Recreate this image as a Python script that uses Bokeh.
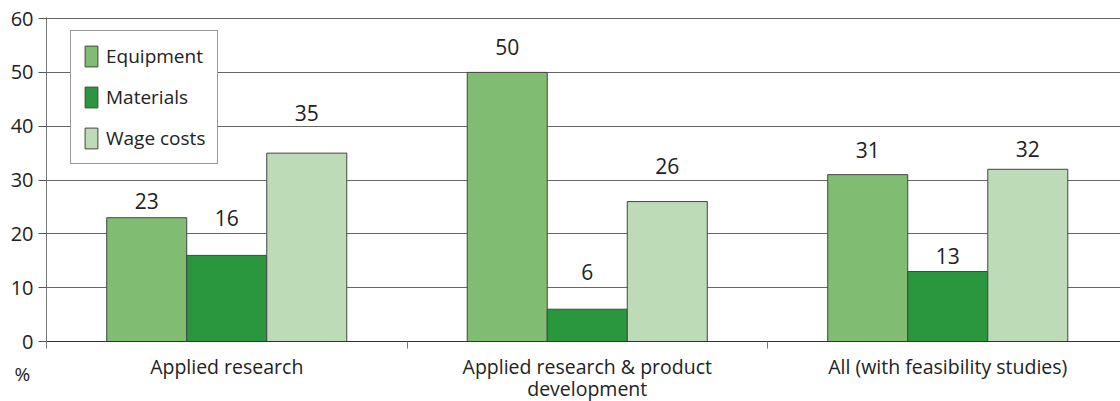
from bokeh.plotting import figure
from bokeh.models import (ColumnDataSource, Range1d, FixedTicker, Legend, LegendItem)
from bokeh.core.properties import value
from bokeh.embed import file_html
from bokeh.resources import INLINE

categories = ["Applied research", "Applied research & product\ndevelopment", "All (with feasibility studies)"]
series_names = ["Equipment", "Materials", "Wage costs"]
equipment = [23, 50, 31]
materials = [16, 6, 13]
wage_costs = [35, 26, 32]
y_ticks = [0, 10, 20, 30, 40, 50, 60]
y_unit = "%"

# label gaps above bar tops (pixels), as in the reference layout
label_gaps = [[8, 16, 16], [28, 28, 7], [31, 27, 11]]

colors = ["#80bd73", "#2a963e", "#bddbb7"]
FONT = "Open Sans"
TXT = "#222222"

W, H = 1120, 401
FRAME_W, FRAME_H = 1074, 324
CAT_PX = 360.5
Y_END = 60.2
PPU = FRAME_H / Y_END      # pixels per y unit
BASE_FIX = 9               # alphabetic baseline correction (px)

p = figure(width=W, height=H, output_backend="svg", toolbar_location=None,
           x_range=Range1d(0, FRAME_W / CAT_PX), y_range=Range1d(0, Y_END),
           min_border_left=46, min_border_right=0, min_border_top=17, min_border_bottom=60)
p.outline_line_color = None
p.background_fill_color = "white"
p.border_fill_color = "white"

centers = [i + 0.5 for i in range(len(categories))]
bw = 0.222
offsets = [-bw, 0.0, bw]
renderers = []
for vals, off, col, gaps in zip([equipment, materials, wage_costs], offsets, colors, label_gaps):
    src = ColumnDataSource(dict(x=[c + off for c in centers], top=vals,
                                lab=[str(v) for v in vals],
                                yo=[-(g + BASE_FIX) for g in gaps]))
    r = p.vbar(x="x", top="top", width=bw, bottom=0, source=src, fill_color=col,
               line_color="#444444", line_width=1)
    renderers.append(r)
    p.text(x="x", y="top", text="lab", source=src, text_align="center",
           text_baseline="alphabetic", y_offset="yo", text_font=value(FONT),
           text_font_size="21px", text_color=TXT)

# y axis
p.yaxis.ticker = FixedTicker(ticks=y_ticks)
p.yaxis.major_tick_out = 8
p.yaxis.major_tick_in = 0
p.yaxis.minor_tick_line_color = None
p.yaxis.axis_line_color = "#777777"
p.yaxis.major_tick_line_color = "#555555"
p.yaxis.major_label_text_font = FONT
p.yaxis.major_label_text_font_size = "20px"
p.yaxis.major_label_text_color = TXT
p.yaxis.major_label_standoff = 5

# x axis: ticks at category boundaries only
p.xaxis.ticker = FixedTicker(ticks=[], minor_ticks=[0, 1, 2])
p.xaxis.major_tick_out = 0
p.xaxis.major_tick_in = 0
p.xaxis.minor_tick_out = 7
p.xaxis.minor_tick_in = 0
p.xaxis.minor_tick_line_color = "#777777"
p.xaxis.axis_line_color = "#333333"
p.xaxis.axis_line_width = 1.2
p.xaxis.major_label_text_font_size = "0px"

p.xgrid.grid_line_color = None
p.ygrid.grid_line_color = "#666666"
p.ygrid.grid_line_width = 1.2

# category labels below the axis (one text per line), drawn unclipped
cx, cy, ct = [], [], []
for c, lab in zip(centers, categories):
    for i, line in enumerate(lab.split("\n")):
        cx.append(c)
        cy.append(-(34 + 22 * i - BASE_FIX) / PPU)
        ct.append(line)
p.text(x="x", y="y", text="t", source=ColumnDataSource(dict(x=cx, y=cy, t=ct)),
       text_font=value(FONT), text_font_size="19.5px", text_color=TXT,
       text_align="center", text_baseline="alphabetic", level="overlay")

# unit label under the y axis
p.text(x=[-32 / CAT_PX], y=[-(41 - BASE_FIX) / PPU], text=[y_unit],
       text_font=value(FONT), text_font_size="19px", text_color=TXT,
       text_align="left", text_baseline="alphabetic", level="overlay")

legend = Legend(items=[LegendItem(label=n, renderers=[r]) for n, r in zip(series_names, renderers)],
                location=(24, 177), padding=12, spacing=15, glyph_width=16, glyph_height=26,
                label_standoff=7, label_text_font=FONT, label_text_font_size="19px",
                label_text_color=TXT, border_line_color="#333333", border_line_width=1,
                background_fill_color="white", background_fill_alpha=1, margin=0)
p.add_layout(legend)

open("out.html", "w").write(file_html(p, INLINE))
